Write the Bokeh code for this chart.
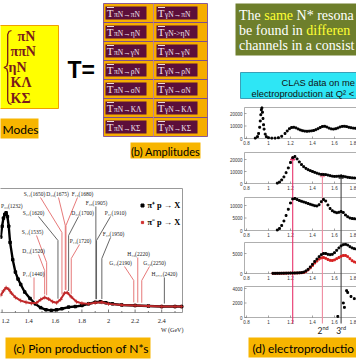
import numpy as np
from bokeh.plotting import figure
from bokeh.models import Range1d
from bokeh.embed import file_html
from bokeh.resources import INLINE
from bokeh.core.properties import value

# ---------------- data ----------------
modes = ["πN", "ππN", "ηN", "KΛ", "KΣ"]
amp_left = ["πN→πN", "πN→ηN", "πN→γN", "πN→ρN", "πN→σN", "πN→KΛ", "πN→KΣ"]
amp_right = ["γN→πN", "γN->ηN", "γN→γN", "γN→ρN", "γN→σN", "γN→KΛ", "γN→KΣ"]

# (c) total cross sections (mb) vs W (GeV)
pip_w = [1.19, 1.20, 1.21, 1.22, 1.23, 1.24, 1.25, 1.26, 1.28, 1.30, 1.32, 1.34, 1.37, 1.41, 1.45,
         1.49, 1.53, 1.57, 1.61, 1.65, 1.70, 1.75, 1.80, 1.85, 1.90, 1.94, 1.98, 2.03, 2.10, 2.20,
         2.30, 2.40, 2.50, 2.55]
pip_s = [160, 180, 195, 202, 205, 198, 180, 150, 118, 95, 82, 72, 58, 46, 36,
         29, 25, 24, 25, 27, 30, 31, 33, 36, 39, 40, 38, 36, 34, 33,
         32, 31, 31, 31]
pim_w = [1.19, 1.21, 1.23, 1.25, 1.27, 1.30, 1.34, 1.38, 1.42, 1.46, 1.49, 1.52, 1.55, 1.58, 1.61,
         1.64, 1.67, 1.69, 1.72, 1.76, 1.80, 1.85, 1.90, 1.95, 2.00, 2.10, 2.20, 2.30, 2.40, 2.50, 2.55]
pim_s = [52, 60, 66, 63, 56, 48, 42, 39, 37, 38, 44, 48, 45, 40, 38,
         44, 56, 57, 49, 40, 37, 36, 38, 39, 36, 34, 33, 32, 31, 31, 31]

c_ticks = [1.2, 1.4, 1.6, 1.8, 2.0, 2.2, 2.4]
c_tick_labels = ["1.2", "1.4", "1.6", "1.8", "2", "2.2", "2.4"]

res_names = ["P₃₃(1232)", "S₁₁(1650)", "D₁₅(1675)", "F₁₅(1680)", "F₃₅(1905)", "S₃₁(1620)",
             "D₃₃(1700)", "P₃₁(1910)", "S₁₁(1535)", "F₃₇(1950)", "P₁₃(1720)", "D₁₃(1520)",
             "P₁₁(1440)", "H₁₉(2220)", "G₁₇(2190)", "G₁₉(2250)", "H₃,₁₁(2420)"]
res_mass = [1.232, 1.650, 1.675, 1.680, 1.905, 1.620, 1.700, 1.910, 1.535, 1.950, 1.720, 1.520,
            1.440, 2.220, 2.190, 2.250, 2.420]

# (d) electroproduction event counts vs W (GeV)
d_ticks = [0.8, 1.0, 1.2, 1.4, 1.6, 1.8]
d_tick_labels = ["0.8", "1", "1.2", "1.4", "1.6", "1.8"]

e1_w = [0.88, 0.90, 0.91, 0.92, 0.925, 0.93, 0.935, 0.94, 0.945, 0.95, 0.955, 0.96, 0.97, 0.98,
        1.00, 1.03, 1.06, 1.09, 1.12, 1.15, 1.17, 1.19, 1.21, 1.23, 1.25, 1.27, 1.29, 1.31, 1.33,
        1.35, 1.37, 1.39, 1.41, 1.43, 1.45, 1.47, 1.49, 1.51, 1.53, 1.55, 1.57, 1.59, 1.61, 1.63,
        1.65, 1.67, 1.69, 1.71, 1.73, 1.75, 1.77, 1.79, 1.81, 1.83, 1.85, 1.87, 1.89]
e1_n = [300, 1500, 4000, 9000, 14000, 19000, 23000, 24500, 21000, 16000, 11000, 7500, 3500, 1500,
        600, 300, 300, 600, 1800, 4000, 6000, 7800, 8800, 9000, 8500, 7600, 6800, 6200, 5900,
        5800, 5900, 6100, 6400, 7000, 7800, 8800, 9600, 9800, 9200, 8300, 7700, 7500, 7800, 8400,
        9200, 9700, 9800, 9500, 9000, 8600, 8300, 8200, 8100, 8000, 7900, 7900, 7800]

e2_w = [1.08, 1.10, 1.12, 1.14, 1.16, 1.18, 1.20, 1.22, 1.24, 1.26, 1.28, 1.30, 1.32, 1.34, 1.36,
        1.38, 1.40, 1.42, 1.44, 1.46, 1.48, 1.50, 1.52, 1.54, 1.56, 1.58, 1.60, 1.62, 1.64, 1.66,
        1.68, 1.70, 1.72, 1.74, 1.76, 1.78, 1.80, 1.82, 1.84, 1.86, 1.88, 1.90]
e2_n = [300, 1200, 3000, 5500, 9000, 13000, 17500, 21500, 22500, 20500, 18000, 15800, 14000, 12600,
        11500, 10700, 10000, 9300, 8600, 8000, 7600, 7500, 7400, 7000, 6500, 6100, 5900, 6000, 6100,
        6200, 6000, 5600, 5200, 4900, 4700, 4600, 4500, 4400, 4300, 4300, 4200, 4200]

e3_w = [1.08, 1.10, 1.12, 1.14, 1.16, 1.18, 1.20, 1.22, 1.24, 1.26, 1.28, 1.30, 1.32, 1.34, 1.36,
        1.38, 1.40, 1.42, 1.44, 1.46, 1.48, 1.50, 1.52, 1.54, 1.56, 1.58, 1.60, 1.62, 1.64, 1.66,
        1.68, 1.70, 1.72, 1.74, 1.76, 1.78, 1.80, 1.82, 1.84, 1.86, 1.88]
e3_n = [200, 800, 2000, 3800, 6000, 8500, 11000, 12600, 12800, 12400, 12000, 11700, 11400, 11100,
        10800, 10500, 10200, 9900, 9800, 10300, 11500, 12400, 11800, 10200, 8800, 7900, 7400, 7100,
        7300, 7600, 7200, 6200, 5500, 5000, 4800, 4700, 4600, 4500, 4500, 4400, 4400]

e4_w = [1.04, 1.06, 1.08, 1.10, 1.12, 1.14, 1.16, 1.18, 1.20, 1.22, 1.24, 1.26, 1.28, 1.30, 1.32,
        1.34, 1.36, 1.38, 1.40, 1.42, 1.44, 1.46, 1.48, 1.50, 1.52, 1.54, 1.56, 1.58, 1.60, 1.62,
        1.64, 1.66, 1.68, 1.70, 1.72, 1.74, 1.76, 1.78, 1.80, 1.82, 1.84, 1.86, 1.88]
e4_black = [50, 50, 60, 60, 70, 80, 90, 100, 110, 120, 130, 150, 180, 220, 350,
            650, 1050, 1650, 2300, 3000, 3600, 4200, 4700, 5000, 5000, 4800, 4700, 4800, 5200, 5800,
            6400, 6900, 7200, 7300, 7100, 6700, 6400, 6200, 6100, 6000, 6000, 5900, 5900]
e4_red = [40, 40, 50, 50, 60, 60, 70, 80, 90, 100, 110, 130, 150, 180, 250,
          500, 900, 1400, 2000, 2600, 3100, 3600, 3900, 4000, 3800, 3500, 3300, 3250, 3400, 3700,
          4000, 4300, 4500, 4500, 4200, 3700, 3200, 2900, 2750, 2700, 2650, 2600, 2600]

e5_w = [1.63, 1.68, 1.69, 1.71, 1.72, 1.75, 1.78, 1.81]
e5_n = [150, 2000, 1400, 3700, 3450, 2900, 2600, 2300]

d_yticks = [[0, 10000, 20000], [0, 10000, 20000], [0, 5000, 10000], [0, 5000], [0, 2000, 4000]]
d_ytick_labels = [["0", "10000", "20000"], ["0", "10000", "20000"], ["0", "5000", "10000"],
                  ["0", "5000"], ["0", "2000", "4000"]]
d_res_w = [1.22, 1.49, 1.66]
d_res_labels = ["", "2nd", "3rd"]

# ---------------- canvas ----------------
W, H = 356, 364
p = figure(width=W, height=H, x_range=Range1d(0, W), y_range=Range1d(H, 0),
           output_backend="svg", toolbar_location=None, min_border=0)
p.axis.visible = False
p.xgrid.visible = False
p.ygrid.visible = False
p.outline_line_color = None
p.background_fill_color = "white"
p.border_fill_color = "white"

SERIF = "Liberation Serif"
SANS = "Liberation Sans"
CAL = "Lato"
ORANGE = "#f7b500"

# Times / Liberation Serif advance widths (1/1000 em) for laying out coloured word runs
TW = {" ": 250, "T": 611, "h": 500, "e": 444, "s": 389, "a": 444, "m": 778, "N": 722, "*": 500,
      "r": 333, "o": 500, "n": 500, "c": 444, "u": 500, "t": 278, "b": 500, "f": 333, "d": 500,
      "i": 278, "l": 278}


def tw(s, size):
    return sum(TW.get(ch, 500) for ch in s) * size / 1000.0


def txt(x, y, s, size, color="black", font=SANS, align="left", baseline="middle", style="normal"):
    p.text(x=[x], y=[y], text=[s], text_font=value(font), text_font_size=f"{size}px",
           text_color=color, text_align=align, text_baseline=baseline, text_font_style=style)


def box(l, r, t, b, fill, line=None, lw=1.0):
    p.quad(left=[l], right=[r], top=[t], bottom=[b], fill_color=fill, line_color=line, line_width=lw)


# ---------------- (a) modes ----------------
box(-2, 58, 25, 108, "#ffff00", "#f0a000", 1)
p.line(x=[11, 8.5, 7.2, 7.2, 6.4, 3.5, 6.4, 7.2, 7.2, 8.5, 11],
       y=[30, 31, 34, 62, 65.5, 67, 68.5, 72, 100, 103, 104], line_color="#7b1b1b", line_width=1.3)
mode_x = [17, 10, 8, 10, 10]
mode_y = [36, 51, 67, 82, 98]
for m, mx, my in zip(modes, mode_x, mode_y):
    txt(mx, my, m, 14, "#7b1b1b", SERIF, style="bold")
box(-2, 38, 118, 138, ORANGE)
txt(2, 128.5, "Modes", 12, "black", CAL)

txt(67, 69, "T=", 23, "black", SANS, style="bold")

# ---------------- (b) amplitudes ----------------
g_l, g_r, g_t, pitch = 103, 207, 3, 19.0
nrow = len(amp_left)
box(g_l, g_r, g_t, g_t + pitch * nrow, "#f6ad00", "#8a5a9a", 1)
for i in range(1, nrow):
    p.line(x=[g_l, g_r], y=[g_t + pitch * i] * 2, line_color="#7e4f8e", line_width=1)
p.line(x=[153, 153], y=[g_t, g_t + pitch * nrow], line_color="#b07ab0", line_width=0.8)
for i, (a, b) in enumerate(zip(amp_left, amp_right)):
    cyy = g_t + pitch * i + pitch / 2
    for cx0, lab in ((105, a), (156, b)):
        box(cx0, cx0 + 41, cyy - 6.5, cyy + 6.5, "#5c0f3a")
        p.line(x=[cx0 + 1.5, cx0 + 8.5], y=[cyy - 5.5] * 2, line_color="#e8d8e8", line_width=1.2)
        txt(cx0 + 1.2, cyy + 5.5, "T", 11, "#f3e6f0", SERIF, baseline="bottom")
        txt(cx0 + 8.5, cyy + 5.5, lab, 7.5, "#f3e6f0", SERIF, baseline="bottom")

box(130, 200, 142, 158, ORANGE)
txt(165, 150.5, "(b) Amplitudes", 11, "black", CAL, align="center")

# ---------------- green statement box ----------------
box(235, 362, 3, 55, "#6e7f2c")
GS = 14.0
GX = 238.5
green_lines = [
    [("The ", "white"), ("same", "#ffff33"), (" N* resona", "white")],
    [("be found in ", "white"), ("differen", "#ffff33")],
    [("channels in a consist", "white")],
]
for li, runs in enumerate(green_lines):
    xx = GX
    for s, col in runs:
        st = s.lstrip(" ")
        xx_run = xx + tw(s[:len(s) - len(st)], GS)
        txt(xx_run, 15 + 15 * li, st.rstrip(" "), GS, col, SERIF)
        xx += tw(s, GS)

# ---------------- cyan box ----------------
box(240, 362, 72, 98, "#2ee6f5", "#3aa0b8", 1)
txt(281, 82, "CLAS data on me", 9.3, "#111111", SANS)
txt(251, 93, "electroproduction at Q² <", 9.3, "#111111", SANS)

# ---------------- (c) pion production ----------------
C_TOP, C_BOT, C_RIGHT = 188, 312, 182


def cx(w):
    return 108 + (np.asarray(w, dtype=float) - 2.0) * 133.0


def cy(s):
    return C_BOT - (np.asarray(s, dtype=float) - 20.0) * 124.0 / 230.0


box(-2, C_RIGHT, C_TOP, C_BOT, "white", "#999999", 1)
for t, lab in zip(c_ticks, c_tick_labels):
    xx = float(cx(t))
    p.line(x=[xx, xx], y=[C_BOT, C_BOT - 3], line_color="#555555", line_width=0.8)
    txt(max(xx, 5.0), 320, lab, 6.5, "#222222", SERIF, align="center")
for t in np.arange(1.3, 2.6, 0.2):
    xx = float(cx(t))
    p.line(x=[xx, xx], y=[C_BOT, C_BOT - 1.5], line_color="#555555", line_width=0.8)
txt(183, 329, "W (GeV)", 6, "#222222", SERIF, align="right")

# resonance labels and leader lines
lab_pos = [(0.5, 205), (34, 193), (57, 193), (82, 193), (96, 202), (33, 212), (82, 212), (115, 212),
           (32, 231), (113, 233), (80, 240), (33, 250), (33, 273), (138, 253), (120, 262),
           (154, 262), (164, 273)]
lead = [None, (40, 232), (58, 225), (77, 225), None, (38, 240), (78, 235), (110, 240),
        (36, 262), (110, 258), (79, 258), (38, 270), None, None, (124, 280), (149, 280), None]
red_set = {1, 2, 3, 8, 10, 11, 12, 13, 14, 15}
for i, (nm, m) in enumerate(zip(res_names, res_mass)):
    lx, ly = lab_pos[i]
    al = "left" if i == 0 else "center"
    txt(lx, ly, nm, 5.5, "#222222", SERIF, align=al)
    if i == 0:
        continue
    col = "#e36a6a" if i in red_set else "#555555"
    xm = float(cx(m))
    top_curve = min(float(cy(np.interp(m, pip_w, pip_s))), float(cy(np.interp(m, pim_w, pim_s))))
    yend = top_curve - 3
    if lead[i] is None:
        p.line(x=[xm, xm], y=[ly + 4, yend], line_color=col, line_width=0.9)
    else:
        sx, ky = lead[i]
        p.line(x=[sx, xm, xm], y=[ly + 4, ky, yend], line_color=col, line_width=0.9)

# data
p.line(x=cx(pip_w), y=cy(pip_s), line_color="black", line_width=2.4)
p.scatter(x=cx(pip_w), y=cy(pip_s), marker="square", size=2.5, color="black")
p.line(x=cx(pim_w), y=cy(pim_s), line_color="#c0282a", line_width=2.0)
p.scatter(x=cx(pim_w), y=cy(pim_s), marker="cross", size=4, color="#c0282a", line_width=0.8)

# legend
p.scatter(x=[142], y=[205], marker="square", size=3, color="black")
txt(147, 205, "π⁺ p → X", 8.3, "black", SERIF, style="bold")
p.scatter(x=[142], y=[222], marker="square", size=2.2, color="#d03030")
txt(147, 222, "π⁻ p → X", 8.3, "black", SERIF, style="bold")

box(5, 150, 337, 358, ORANGE)
txt(13, 348, "(c) Pion production of N*s", 12, "black", CAL)

# ---------------- (d) electroproduction panels ----------------
D_LEFT = 244


def dx(w):
    return 268 + (np.asarray(w, dtype=float) - 1.0) * 110.0


panels = [(107, 138, 0.00125), (152, 183, 0.0012), (197, 230, 0.0025), (242, 273, 0.004), (286, 317, 0.00725)]

for k, (top, zero, sc) in enumerate(panels):
    box(D_LEFT, 362, top, zero, "white", "#9a9a9a", 0.8)
    for t, lab in zip(d_ticks, d_tick_labels):
        xx = float(dx(t))
        p.line(x=[xx, xx], y=[zero, zero - 2], line_color="#666666", line_width=0.6)
        txt(min(xx, 352.5), zero + 4.5, lab, 4.5, "#333333", SANS, align="center")
    for t, lab in zip(d_yticks[k], d_ytick_labels[k]):
        yy = zero - t * sc
        p.line(x=[D_LEFT, D_LEFT + 2], y=[yy, yy], line_color="#666666", line_width=0.6)
        txt(D_LEFT - 2, yy, lab, 4.5, "#333333", SANS, align="right")

# resonance lines through panels 2-5
dcols = ["#e8336b", "#f08aa0", "#444444"]
top2, zero2, sc2 = panels[1]
for w, col, lab in zip(d_res_w, dcols, d_res_labels):
    xx = float(dx(w))
    tip = zero2 - float(np.interp(w, e2_w, e2_n)) * sc2 - 1
    p.line(x=[xx, xx], y=[tip + 2, 323], line_color=col, line_width=1.1)
    p.scatter(x=[xx], y=[tip + 2], marker="triangle", size=4.5, color=col)
    if lab:
        txt(xx, 330, lab[0], 8.5, "#222222", CAL, align="right")
        txt(xx, 327, lab[1:], 5.5, "#222222", CAL, align="left")


def dots(ws, ns, k, col):
    top, zero, sc = panels[k]
    ys = [zero - min(n * sc, zero - top) for n in ns]
    p.scatter(x=dx(ws), y=ys, marker="square", size=1.8, color=col)


dots(e1_w, e1_n, 0, "black")
dots(e2_w, e2_n, 1, "black")
dots(e3_w, e3_n, 2, "black")
dots(e4_w, e4_red, 3, "#d62020")
dots(e4_w, e4_black, 3, "black")
dots(e5_w, e5_n, 4, "black")

box(248, 362, 337, 357, ORANGE)
txt(252, 347.5, "(d) electroproductio", 11.8, "black", CAL)

open("out.html", "w").write(file_html(p, INLINE))
